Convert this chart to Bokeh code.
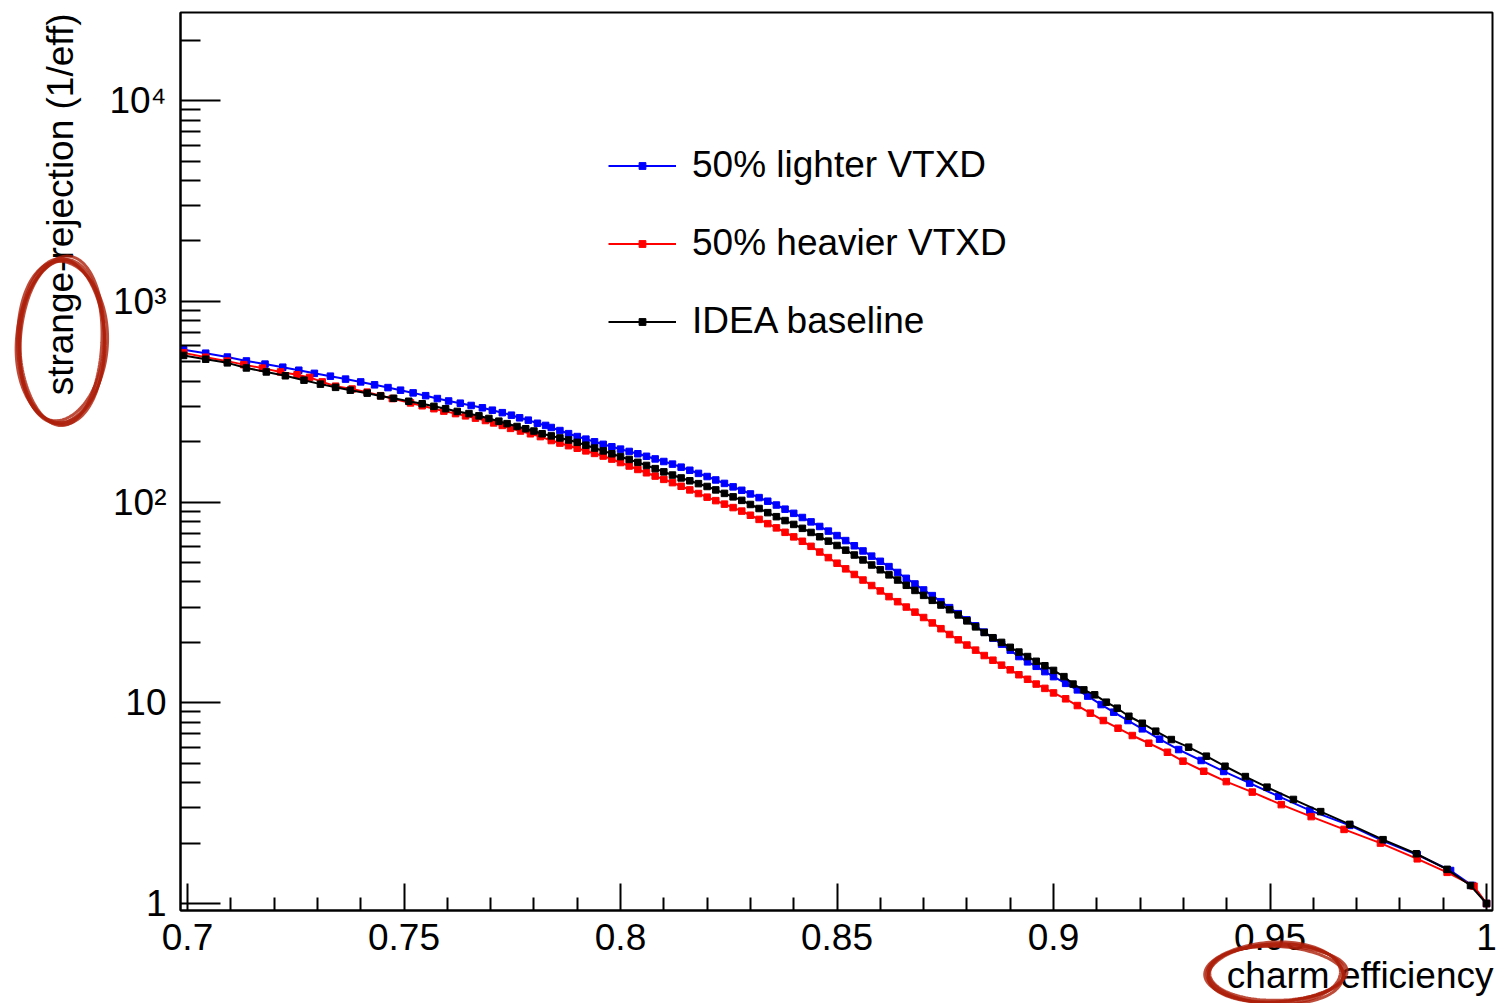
import math
from bokeh.plotting import figure
from bokeh.models import FixedTicker, Legend, LegendItem, Range1d, Title
from bokeh.embed import file_html
from bokeh.resources import INLINE

FONT = "Liberation Sans"

# ---------------- data ----------------
# shared dense section of charm-efficiency points
eff_mid = [0.784, 0.786, 0.788, 0.790, 0.792, 0.794, 0.796, 0.798, 0.800, 0.802,
           0.804, 0.806, 0.808, 0.810, 0.812, 0.814, 0.816, 0.818, 0.820, 0.822,
           0.824, 0.826, 0.828, 0.830, 0.832, 0.834, 0.836, 0.838, 0.840, 0.842,
           0.844, 0.846, 0.848, 0.850, 0.852, 0.854, 0.856, 0.858, 0.860, 0.862,
           0.864, 0.866, 0.868, 0.870, 0.872, 0.874, 0.876, 0.878, 0.880, 0.882,
           0.884, 0.886, 0.888, 0.890, 0.892, 0.894, 0.896, 0.898, 0.900]

# 50% lighter VTXD (blue)
light_eff_low = [0.6991, 0.7042, 0.7092, 0.7136, 0.7179, 0.7220, 0.7257, 0.7293, 0.7330, 0.7365,
                 0.7400, 0.7432, 0.7463, 0.7492, 0.7521, 0.7550, 0.7577, 0.7603, 0.7630, 0.7655,
                 0.7681, 0.7704, 0.7727, 0.7748, 0.7767, 0.7787, 0.7808, 0.7827]
light_rej_low = [574, 552, 528, 505, 487, 470, 454, 438, 424, 410,
                 397, 384, 372, 361, 350, 339, 328, 319, 311, 303,
                 295, 287, 279, 271, 263, 256, 247, 241]
light_rej_mid = [235.3, 227.2, 219.3, 212.1, 205.9, 199.7, 194.0, 188.6, 183.6, 178.8,
                 174.1, 169.1, 164.1, 159.3, 154.6, 149.3, 144.1, 139.0, 134.1, 128.9,
                 123.9, 119.1, 114.5, 109.8, 105.3, 101.0, 96.7, 92.2, 87.9, 83.8,
                 79.7, 75.6, 71.7, 68.1, 64.3, 60.6, 57.1, 53.8, 50.7, 47.7,
                 44.6, 41.7, 39.1, 36.5, 34.2, 31.9, 29.8, 27.8, 25.9, 24.2,
                 22.5, 21.0, 19.6, 18.3, 17.0, 16.0, 15.2, 14.3, 13.5]
light_eff_high = [0.9028, 0.9055, 0.9079, 0.9110, 0.9139, 0.9172, 0.9205, 0.9245, 0.9289, 0.9341,
                  0.9393, 0.9453, 0.9520, 0.9592, 0.9684, 0.9759, 0.9840, 0.9917, 0.9967, 1.0]
light_rej_high = [12.5, 11.6, 10.8, 9.80, 8.98, 8.16, 7.42, 6.59, 5.85, 5.16,
                  4.55, 3.98, 3.42, 2.91, 2.45, 2.06, 1.75, 1.46, 1.23, 1.0]

# 50% heavier VTXD (red)
heavy_eff_low = [0.6991, 0.7042, 0.7092, 0.7130, 0.7173, 0.7215, 0.7253, 0.7282, 0.7311, 0.7342,
                 0.7380, 0.7415, 0.7446, 0.7473, 0.7515, 0.7542, 0.7569, 0.7592, 0.7619, 0.7642,
                 0.7665, 0.7688, 0.7707, 0.7727, 0.7746, 0.7769, 0.7792, 0.7815]
heavy_rej_low = [554, 527, 504, 484, 465, 445, 431, 418, 397, 378,
                 366, 353, 339, 328, 312, 302, 292, 284, 276, 269,
                 262, 255, 248, 241, 233, 226, 219, 212]
heavy_rej_mid = [202.6, 196.8, 191.0, 185.5, 180.0, 174.8, 169.6, 163.8, 157.4, 151.3,
                 145.4, 140.0, 134.8, 129.8, 125.0, 119.9, 115.0, 110.3, 105.8, 101.7,
                 97.7, 93.9, 90.2, 86.0, 82.0, 78.1, 74.4, 70.7, 67.1, 63.8,
                 60.2, 56.4, 52.9, 49.6, 46.5, 43.6, 40.9, 38.4, 36.1, 33.8,
                 31.9, 30.0, 28.3, 26.6, 25.0, 23.4, 21.9, 20.6, 19.4, 18.3,
                 17.2, 16.3, 15.4, 14.6, 13.8, 13.1, 12.4, 11.8, 11.2]
heavy_eff_high = [0.9028, 0.9055, 0.9085, 0.9115, 0.9149, 0.9182, 0.9220, 0.9263, 0.9299, 0.9347,
                  0.9399, 0.9459, 0.9526, 0.9595, 0.9671, 0.9755, 0.9840, 0.9909, 0.9971, 1.0]
heavy_rej_high = [10.47, 9.69, 8.88, 8.16, 7.47, 6.87, 6.29, 5.67, 5.12, 4.56,
                  4.05, 3.59, 3.11, 2.71, 2.34, 2.00, 1.67, 1.43, 1.22, 1.0]

# IDEA baseline (black)
base_eff_low = [0.6991, 0.7042, 0.7092, 0.7136, 0.7182, 0.7226, 0.7269, 0.7307, 0.7342, 0.7376,
                0.7415, 0.7446, 0.7476, 0.7511, 0.7542, 0.7569, 0.7596, 0.7623, 0.7650, 0.7673,
                0.7696, 0.7719, 0.7738, 0.7761, 0.7781, 0.7800, 0.7819]
base_rej_low = [538, 515, 494, 466, 445, 426, 405, 387, 373, 361,
                349, 338, 329, 318, 309, 300, 292, 283, 276, 269,
                261, 253, 246, 238, 232, 226, 219]
base_rej_mid = [213.7, 208.7, 203.9, 198.5, 192.1, 185.9, 179.9, 174.1, 168.5, 163.1,
                157.8, 152.3, 146.8, 141.5, 136.4, 131.9, 127.7, 123.6, 119.6, 115.0,
                110.5, 106.2, 102.0, 97.3, 92.9, 88.6, 84.6, 80.9, 77.4, 74.0,
                70.6, 67.2, 63.9, 60.8, 57.6, 54.5, 51.5, 48.6, 46.0, 43.4,
                40.9, 38.5, 36.3, 34.3, 32.4, 30.7, 29.1, 27.4, 25.6, 23.9,
                22.4, 21.1, 20.0, 18.9, 17.9, 17.0, 16.1, 15.3, 14.5]
base_eff_high = [0.9024, 0.9045, 0.9070, 0.9095, 0.9122, 0.9147, 0.9174, 0.9205, 0.9236, 0.9272,
                 0.9312, 0.9353, 0.9396, 0.9443, 0.9493, 0.9554, 0.9617, 0.9684, 0.9761, 0.9838,
                 0.9909, 0.9963, 1.0]
base_rej_high = [13.5, 12.4, 11.6, 10.96, 10.07, 9.40, 8.57, 7.91, 7.22, 6.56,
                 6.01, 5.42, 4.83, 4.29, 3.80, 3.30, 2.87, 2.48, 2.08, 1.77,
                 1.48, 1.23, 1.0]

series_labels = ["50% lighter VTXD", "50% heavier VTXD", "IDEA baseline"]

# axis ticks
x_ticks = [0.7, 0.75, 0.8, 0.85, 0.9, 0.95, 1.0]
x_tick_labels = ["0.7", "0.75", "0.8", "0.85", "0.9", "0.95", "1"]
y_ticks = [1, 10, 100, 1000, 10000]
y_tick_labels = ["1", "10", "10\u00b2", "10\u00b3", "10\u2074"]

# ---------------- figure ----------------
FL, FT, FW, FH = 180, 12, 1312, 898
X0, X1 = 0.69838, 1.00138
Y0, Y1 = 0.923, 27500.0

p = figure(frame_width=FW, frame_height=FH, title=None,
           x_range=Range1d(X0, X1), y_range=Range1d(Y0, Y1),
           y_axis_type="log", output_backend="svg", toolbar_location=None,
           min_border_left=FL, min_border_right=8, min_border_top=FT, min_border_bottom=93)
p.grid.visible = False
p.outline_line_color = "black"
p.outline_line_width = 2
p.background_fill_color = "white"
p.border_fill_color = "white"

x_minor = [round(0.70 + 0.01 * i, 2) for i in range(31) if i % 5]
y_minor = [m * 10 ** d for d in range(0, 5) for m in range(2, 10)]

xa = p.xaxis[0]
xa.ticker = FixedTicker(ticks=x_ticks, minor_ticks=x_minor)
xa.major_label_overrides = {t: s for t, s in zip(x_ticks, x_tick_labels)}
ya = p.yaxis[0]
ya.ticker = FixedTicker(ticks=y_ticks, minor_ticks=y_minor)
ya.major_label_overrides = {t: s for t, s in zip(y_ticks, y_tick_labels)}

for ax in (xa, ya):
    ax.axis_line_color = "black"
    ax.axis_line_width = 2
    ax.major_tick_line_color = "black"
    ax.minor_tick_line_color = "black"
    ax.major_tick_line_width = 2
    ax.minor_tick_line_width = 2
    ax.major_tick_out = 0
    ax.minor_tick_out = 0
    ax.major_label_text_font = FONT
    ax.major_label_text_font_size = "37px"
    ax.major_label_text_color = "black"
xa.major_tick_in = 27
xa.minor_tick_in = 13
xa.major_label_standoff = 13
ya.major_tick_in = 40
ya.minor_tick_in = 20
ya.major_label_standoff = 14

# ---------------- axis titles ----------------
p.add_layout(Title(text="charm efficiency", align="right", vertical_align="top",
                   offset=-1, standoff=4, text_font=FONT, text_font_size="37px",
                   text_font_style="normal", text_color="black"), "below")
p.add_layout(Title(text="strange-rejection (1/eff)", align="right", vertical_align="bottom",
                   offset=1, standoff=52, text_font=FONT, text_font_size="37px",
                   text_font_style="normal", text_color="black"), "left")

# ---------------- curves ----------------
specs = [
    (light_eff_low + eff_mid + light_eff_high, light_rej_low + light_rej_mid + light_rej_high, "#0000ff"),
    (heavy_eff_low + eff_mid + heavy_eff_high, heavy_rej_low + heavy_rej_mid + heavy_rej_high, "#ff0000"),
    (base_eff_low + eff_mid + base_eff_high, base_rej_low + base_rej_mid + base_rej_high, "#000000"),
]
items = []
for (xs, ys, col), lab in zip(specs, series_labels):
    rl = p.line(xs, ys, line_color=col, line_width=2)
    rs = p.scatter(xs, ys, marker="square", size=6.5, fill_color=col, line_color=col)
    items.append(LegendItem(label=lab, renderers=[rl, rs]))

legend = Legend(items=items, location=(428, 568), orientation="vertical",
                glyph_width=68, glyph_height=17, label_height=40, spacing=36,
                padding=0, margin=0, label_standoff=16,
                border_line_alpha=0, background_fill_alpha=0,
                label_text_font=FONT, label_text_font_size="37px", label_text_color="black")
p.add_layout(legend)

# ---------------- hand-drawn red circles (decoration, placed in page pixels) ----------------
def px_to_x(px):
    return X0 + (px - FL) * (X1 - X0) / FW

def py_to_y(py):
    l0, l1 = math.log10(Y0), math.log10(Y1)
    return 10 ** (l1 - (py - FT) * (l1 - l0) / FH)

def ring(cx, cy, a, b, tilt, wob, ph):
    xs, ys = [], []
    n = 140
    for i in range(n + 1):
        t = 2 * math.pi * i / n
        r = 1 + wob * math.sin(3 * t + ph)
        ex, ey = a * r * math.cos(t), b * r * math.sin(t)
        px = cx + ex * math.cos(tilt) - ey * math.sin(tilt)
        py = cy + ex * math.sin(tilt) + ey * math.cos(tilt)
        xs.append(px_to_x(px))
        ys.append(py_to_y(py))
    return xs, ys

RED = "#ad1f0a"
strokes = [(0, 0, 0.015, 0.7), (2, -1, 0.025, 2.0), (-2, 1, 0.02, 4.1), (1, 2, 0.03, 5.3), (-1, -2, 0.02, 1.2)]
for (cx, cy, a, b, tilt) in [(61, 341, 43, 82, 0.0), (1275, 973, 68, 29, -0.04)]:
    for k, (da, db, w, ph) in enumerate(strokes):
        xs, ys = ring(cx, cy, a + da, b + db, tilt + 0.015 * k, w, ph)
        p.line(xs, ys, line_color=RED, line_width=3, line_alpha=0.8, level="overlay")

open("out.html", "w").write(file_html(p, INLINE))
